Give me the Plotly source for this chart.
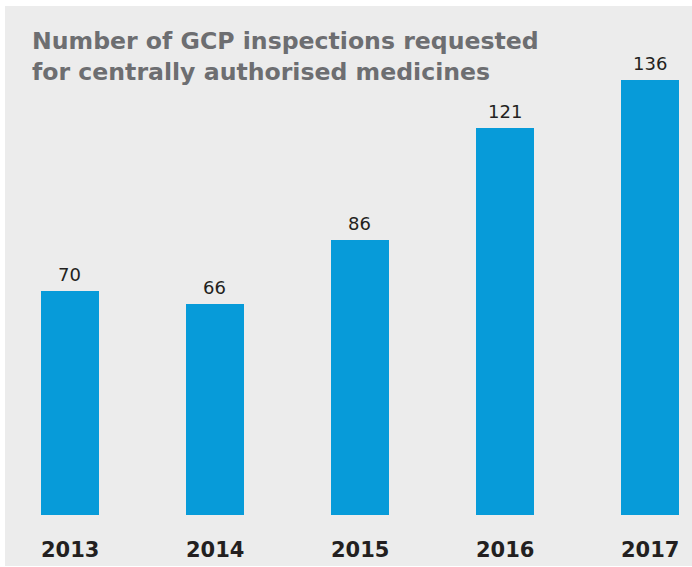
import plotly.graph_objects as go

years = ["2013", "2014", "2015", "2016", "2017"]
inspections = [70, 66, 86, 121, 136]

title_lines = ["Number of GCP inspections requested", "for centrally authorised medicines"]

BAR = "#079bd9"
BG = "#ececec"

fig = go.Figure()
fig.add_trace(go.Bar(
    x=list(range(len(years))),
    y=inspections,
    width=0.4,
    marker=dict(color=BAR, line=dict(width=0)),
    hoverinfo="skip",
))

for i, (yr, v) in enumerate(zip(years, inspections)):
    fig.add_annotation(
        x=i, y=-10.8, xref="x", yref="y", text="<b>%s</b>" % yr,
        showarrow=False, yanchor="middle",
        font=dict(family="DejaVu Sans", size=21, color="#231f20"),
    )
    fig.add_annotation(
        x=i, y=v, xref="x", yref="y", text=str(v),
        showarrow=False, yanchor="bottom", yshift=4,
        font=dict(family="DejaVu Sans", size=18, color="#231f20"),
    )

fig.add_annotation(
    x=25 / 687, y=1.0 - 19 / 560, xref="paper", yref="paper",
    xanchor="left", yanchor="top", align="left", showarrow=False,
    text="<b>" + "<br>".join(title_lines) + "</b>",
    font=dict(family="DejaVu Sans", size=23.6, color="#6d6e71"),
)

fig.update_layout(
    width=692, height=567,
    margin=dict(l=5, r=0, t=6, b=1, pad=0),
    paper_bgcolor="white",
    plot_bgcolor=BG,
    showlegend=False,
    bargap=0,
    xaxis=dict(range=[-0.448, 4.29], visible=False, fixedrange=True),
    yaxis=dict(range=[-15.94, 159.06], visible=False, fixedrange=True),
)

fig.write_html(
    "out.html",
    config={"displayModeBar": False, "staticPlot": True},
    post_script="document.body.style.margin='0';document.body.style.overflow='hidden';",
)
